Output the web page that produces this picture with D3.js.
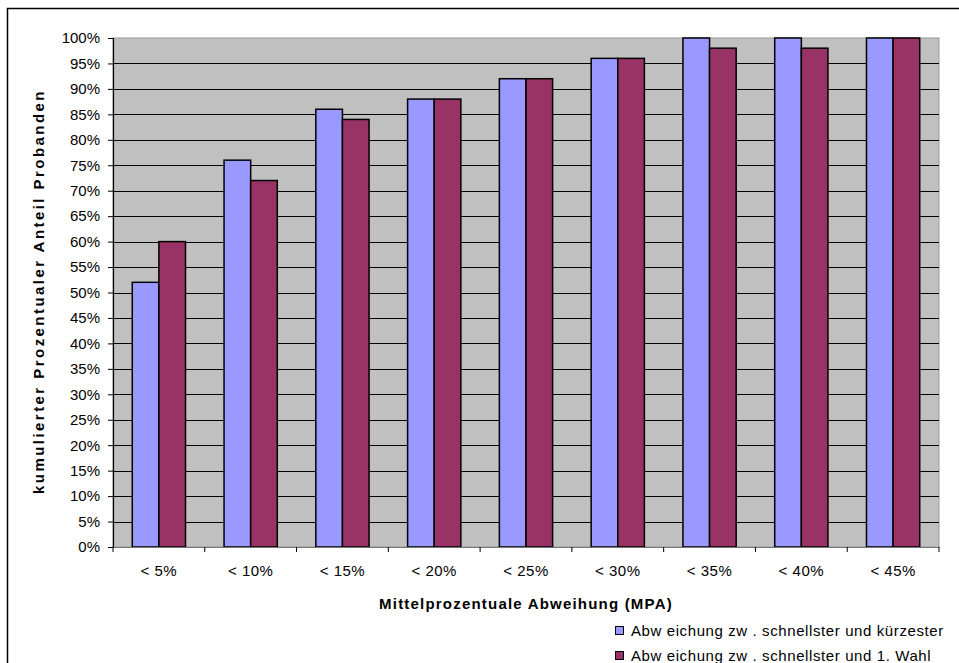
<!DOCTYPE html>
<html>
<head>
<meta charset="utf-8">
<script src="https://cdn.jsdelivr.net/npm/d3@7"></script>
<style>
  html, body { margin: 0; padding: 0; background: #fff; }
  svg { display: block; font-family: "Liberation Sans", Arial, sans-serif; }
</style>
</head>
<body>
<svg id="chart" width="959" height="663"></svg>
<script>
// Categories on the x axis (mean percentage deviation thresholds)
const categories = ["< 5%", "< 10%", "< 15%", "< 20%", "< 25%", "< 30%", "< 35%", "< 40%", "< 45%"];
// Cumulative share of participants, in percent
const seriesKuerzester = [52, 76, 86, 88, 92, 96, 100, 100, 100];
const seriesErsteWahl = [60, 72, 84, 88, 92, 96, 98, 98, 100];
const seriesNames = [
  "Abw eichung zw . schnellster und kürzester",
  "Abw eichung zw . schnellster und 1. Wahl"
];
const seriesColors = ["#9999FF", "#993366"];
const yTicks = d3.range(0, 101, 5);

const svg = d3.select("#chart");
const FONT = "Liberation Sans, Arial, sans-serif";

// outer chart frame
svg.append("rect")
  .attr("x", 7.5).attr("y", 8.5)
  .attr("width", 980).attr("height", 700)
  .attr("fill", "none").attr("stroke", "#000").attr("stroke-width", 1.5);

const plot = { left: 113, top: 38, right: 939, bottom: 547 };

const x = d3.scaleBand().domain(categories).range([plot.left, plot.right]);
const y = d3.scaleLinear().domain([0, 100]).range([plot.bottom, plot.top]);

// plot background
svg.append("rect")
  .attr("x", plot.left).attr("y", plot.top)
  .attr("width", plot.right - plot.left).attr("height", plot.bottom - plot.top)
  .attr("fill", "#C0C0C0").attr("stroke", "#9a9a9a").attr("stroke-width", 1);

// horizontal gridlines
svg.append("g").selectAll("line")
  .data(yTicks.filter(d => d > 0 && d < 100))
  .join("line")
  .attr("x1", plot.left).attr("x2", plot.right)
  .attr("y1", d => Math.round(y(d)) + 0.5).attr("y2", d => Math.round(y(d)) + 0.5)
  .attr("stroke", "#000").attr("stroke-width", 1);

// bars
const barW = x.bandwidth() * 0.29;
const series = [seriesKuerzester, seriesErsteWahl];
series.forEach((vals, si) => {
  svg.append("g").selectAll("rect")
    .data(vals)
    .join("rect")
    .attr("x", (d, i) => x(categories[i]) + x.bandwidth() / 2 - barW + si * barW)
    .attr("y", d => y(d))
    .attr("width", barW)
    .attr("height", d => y(0) - y(d))
    .attr("fill", seriesColors[si])
    .attr("stroke", "#000").attr("stroke-width", 1.5);
});

// y axis
const yAxis = svg.append("g")
  .attr("transform", `translate(${plot.left},0)`)
  .call(d3.axisLeft(y).tickValues(yTicks).tickFormat(d => d + "%").tickSize(5).tickPadding(8));
yAxis.select(".domain").attr("stroke", "#000").attr("stroke-width", 1.2);
yAxis.selectAll(".tick line").attr("stroke", "#000");
yAxis.selectAll("text").attr("font-size", 15).attr("fill", "#000")
  .attr("font-family", FONT);

// x axis
const xAxis = svg.append("g")
  .attr("transform", `translate(0,${plot.bottom})`)
  .call(d3.axisBottom(x).tickSize(0).tickPadding(18));
xAxis.select(".domain").attr("stroke", "#777").attr("stroke-width", 1.2);
xAxis.selectAll("text").attr("font-size", 15).attr("fill", "#000")
  .attr("letter-spacing", 0.5)
  .attr("font-family", FONT);
// category separators below the axis
svg.append("g").selectAll("line")
  .data(d3.range(categories.length + 1))
  .join("line")
  .attr("x1", i => plot.left + i * x.step()).attr("x2", i => plot.left + i * x.step())
  .attr("y1", plot.bottom).attr("y2", plot.bottom + 5)
  .attr("stroke", "#000").attr("stroke-width", 1);

// axis titles
svg.append("text")
  .attr("x", (plot.left + plot.right) / 2).attr("y", 609)
  .attr("text-anchor", "middle")
  .attr("font-size", 15).attr("font-weight", "bold").attr("letter-spacing", 1.2)
  .text("Mittelprozentuale Abweihung (MPA)");

svg.append("text")
  .attr("transform", `translate(44,${(plot.top + plot.bottom) / 2 - 1}) rotate(-90)`)
  .attr("text-anchor", "middle")
  .attr("font-size", 15).attr("font-weight", "bold").attr("letter-spacing", 2.45)
  .text("kumulierter Prozentualer Anteil Probanden");

// legend
const legend = svg.append("g");
seriesNames.forEach((name, i) => {
  const ly = 631 + i * 25;
  legend.append("rect")
    .attr("x", 615.5).attr("y", ly - 4.5)
    .attr("width", 8).attr("height", 8)
    .attr("fill", seriesColors[i]).attr("stroke", "#000").attr("stroke-width", 1);
  legend.append("text")
    .attr("x", 631).attr("y", ly + 5)
    .attr("font-size", 15).attr("letter-spacing", 0.6)
    .text(name);
});
</script>
</body>
</html>
